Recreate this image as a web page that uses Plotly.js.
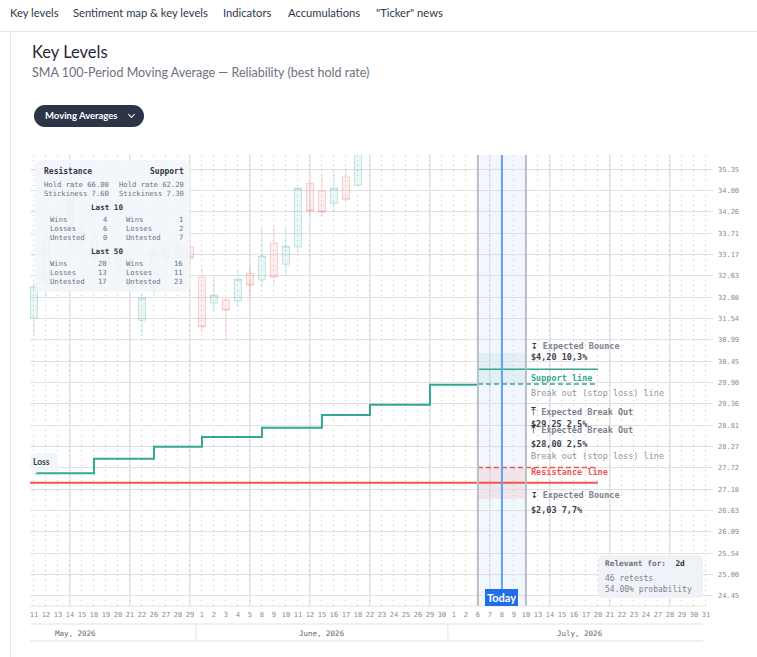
<!DOCTYPE html>
<html>
<head>
<meta charset="utf-8">
<script src="https://cdn.plot.ly/plotly-3.0.1.min.js"></script>
<style>
  html, body { margin: 0; padding: 0; background: #fff; width: 757px; height: 657px; overflow: hidden;
    font-family: Lato, "Open Sans", "Noto Sans", sans-serif; }
  #chart { position: absolute; left: 0; top: 0; width: 757px; height: 657px; }
  .abs { position: absolute; white-space: nowrap; }
  .nav { top: 5px; font-size: 11.2px; line-height: 15px; color: #2d3748; }
  .btn { left: 34px; top: 105px; width: 110px; height: 22px; border-radius: 11px; background: #2b3547;
    color: #fff; font-weight: 700; font-size: 9.5px; line-height: 22px; padding-left: 11px; box-sizing: border-box; }
  .chev { position: absolute; left: 95px; top: 7px; width: 4px; height: 4px; border-right: 1px solid #fff;
    border-bottom: 1px solid #fff; transform: rotate(45deg); }
</style>
</head>
<body>
<div id="chart"></div>

<div class="abs nav" style="left:10px">Key levels</div>
<div class="abs nav" style="left:73px">Sentiment map &amp; key levels</div>
<div class="abs nav" style="left:223px">Indicators</div>
<div class="abs nav" style="left:288px">Accumulations</div>
<div class="abs nav" style="left:376px">"Ticker" news</div>
<div class="abs" style="left:0;top:31px;width:757px;height:1px;background:#e5e7eb"></div>
<div class="abs" style="left:10px;top:32px;width:1px;height:625px;background:#e5e7eb"></div>
<div class="abs" style="left:32px;top:42px;font-size:16.5px;line-height:21px;color:#1f2937">Key Levels</div>
<div class="abs" style="left:32px;top:65px;font-size:12.5px;line-height:16px;color:#6b7280">SMA 100-Period Moving Average — Reliability (best hold rate)</div>
<div class="abs btn">Moving Averages<span class="chev"></span></div>

<script>
// ---- sessions shown on the axis (trading days) ----
const mayDays  = [11, 12, 13, 14, 15, 18, 19, 20, 21, 22, 26, 27, 28, 29];
const juneDays = [1, 2, 3, 4, 5, 8, 9, 10, 11, 12, 15, 16, 17, 18, 22, 23, 24, 25, 26, 29, 30];
const julyDays = [1, 2, 6, 7, 8, 9, 10, 13, 14, 15, 16, 17, 20, 21, 22, 23, 24, 27, 28, 29, 30, 31];
const monthNames = ['May, 2026', 'June, 2026', 'July, 2026'];
const maySessionsBefore = 6;   // May sessions that precede the visible window

// ---- daily candles (first 28 sessions) ----
const openPx  = [31.55, 32.44, 33.55, 34.94, 33.49, 33.64, 33.10, 32.85, 33.00, 31.49, 32.31, 33.33, 33.10, 33.36,
                 32.59, 31.93, 32.01, 31.98, 32.69, 32.52, 33.46, 32.92, 33.36, 34.99, 34.79, 34.48, 35.15, 34.94];
const highPx  = [32.44, 33.95, 34.00, 35.05, 34.05, 33.85, 33.35, 33.25, 33.10, 32.18, 33.40, 33.50, 33.55, 33.50,
                 32.80, 32.64, 32.05, 32.77, 32.85, 33.87, 33.90, 33.87, 34.90, 35.00, 35.22, 35.30, 35.35, 36.10];
const lowPx   = [31.11, 32.08, 33.40, 33.45, 33.30, 32.95, 32.80, 32.70, 32.20, 31.11, 32.15, 32.95, 32.95, 32.95,
                 31.19, 31.70, 30.98, 31.83, 32.01, 32.34, 32.39, 32.62, 33.21, 34.18, 34.12, 34.25, 34.51, 34.89];
const closePx = [32.34, 33.61, 33.85, 33.67, 33.74, 33.03, 32.95, 33.08, 32.35, 32.06, 33.23, 33.08, 33.41, 33.08,
                 31.32, 32.13, 31.75, 32.54, 32.39, 33.13, 32.59, 33.38, 34.86, 34.28, 34.25, 34.86, 34.58, 35.95];

// ---- SMA 100 sampled weekly (held through each week) ----
const smaWeekly = [27.58, 27.58, 27.58, 27.58, 27.58, 27.95, 27.95, 27.95, 27.95, 27.95,
                   28.26, 28.26, 28.26, 28.26, 28.51, 28.51, 28.51, 28.51, 28.51, 28.74,
                   28.74, 28.74, 28.74, 28.74, 29.07, 29.07, 29.07, 29.07, 29.33, 29.33,
                   29.33, 29.33, 29.33, 29.84, 29.84, 29.84, 29.84, 29.84];

// ---- key levels ----
const supportLevel = 30.24;
const supportBreak = 29.86;
const supportZoneTop = 30.65;
const resistanceLevel = 27.34;
const resistanceBreak = 27.73;
const resistanceZoneBottom = 26.92;

// ---- stats ----
const statRows = ['Wins', 'Losses', 'Untested'];
const resistLast10 = [4, 6, 0];
const supportLast10 = [1, 2, 7];
const resistLast50 = [20, 13, 17];
const supportLast50 = [16, 11, 23];
const holdRate = ['66.00', '62.20'];
const stickiness = ['7.60', '7.30'];
const retests = 46;
const probability = '54.00%';
const relevantFor = '2d';

// ---- price axis ----
const yTickVals = [24.45, 24.995, 25.54, 26.085, 26.63, 27.175, 27.72, 28.265, 28.81, 29.355, 29.90,
                   30.445, 30.99, 31.535, 32.08, 32.625, 33.17, 33.715, 34.26, 34.805, 35.35];
const yTickText = ['24.45', '25.00', '25.54', '26.09', '26.63', '27.18', '27.72', '28.27', '28.81', '29.36', '29.90',
                   '30.45', '30.99', '31.54', '32.08', '32.63', '33.17', '33.71', '34.26', '34.80', '35.35'];

// ---------------------------------------------------------------
const dayLabels = [...mayDays, ...juneDays, ...julyDays].map(String);
const idx = dayLabels.map((_, i) => i);
const julyStart = mayDays.length + juneDays.length;
const weekStart = julyStart + julyDays.indexOf(6);
const todayIndex = julyStart + julyDays.indexOf(8);
const weekEnd = julyStart + julyDays.indexOf(10);
const projectionEnd = julyStart + julyDays.indexOf(20);
const candleX = openPx.map((_, i) => i);
const smaX = smaWeekly.map((_, i) => i);

const MONO = '"DejaVu Sans Mono", "Liberation Mono", monospace';
const SANS = 'Lato, "Open Sans", sans-serif';
const XR = [-0.33, 56.59];
const YR = [24.19, 35.71];
const M = { l: 30, r: 44, t: 155, b: 51 };
const W = 757 - M.l - M.r, H = 657 - M.t - M.b;
const PX = x => (x - M.l) / W;
const PY = y => (M.t + H - y) / H;
const IX = i => (i - XR[0]) / (XR[1] - XR[0]);

function roundRect(x0, y0, x1, y1, r) {
  const X = PX, Y = PY;
  return `M${X(x0 + r)},${Y(y0)} L${X(x1 - r)},${Y(y0)} Q${X(x1)},${Y(y0)} ${X(x1)},${Y(y0 + r)} ` +
         `L${X(x1)},${Y(y1 - r)} Q${X(x1)},${Y(y1)} ${X(x1 - r)},${Y(y1)} L${X(x0 + r)},${Y(y1)} ` +
         `Q${X(x0)},${Y(y1)} ${X(x0)},${Y(y1 - r)} L${X(x0)},${Y(y0 + r)} Q${X(x0)},${Y(y0)} ${X(x0 + r)},${Y(y0)} Z`;
}

const GREEN = '#33a793', RED = '#ef5350';

const traces = [
  {
    type: 'candlestick', x: candleX, open: openPx, high: highPx, low: lowPx, close: closePx,
    increasing: { line: { color: 'rgba(38,166,154,0.25)', width: 1 }, fillcolor: 'rgba(38,166,154,0.09)' },
    decreasing: { line: { color: 'rgba(239,83,80,0.25)', width: 1 }, fillcolor: 'rgba(239,83,80,0.09)' },
    hoverinfo: 'skip', showlegend: false
  },
  {
    type: 'scatter', mode: 'lines', x: smaX, y: smaWeekly, line: { color: GREEN, width: 2, shape: 'hv' },
    hoverinfo: 'skip', showlegend: false
  },
  {
    type: 'scatter', mode: 'lines', x: [XR[0] - 1, projectionEnd], y: [resistanceLevel, resistanceLevel],
    line: { color: RED, width: 2 }, hoverinfo: 'skip', showlegend: false
  },
  {
    type: 'scatter', mode: 'lines', x: [weekStart, projectionEnd], y: [supportLevel, supportLevel],
    line: { color: GREEN, width: 1.5 }, hoverinfo: 'skip', showlegend: false
  },
  {
    type: 'scatter', mode: 'lines', x: [weekStart, projectionEnd], y: [supportBreak, supportBreak],
    line: { color: GREEN, width: 1.5, dash: '5px,3px' }, hoverinfo: 'skip', showlegend: false
  },
  {
    type: 'scatter', mode: 'lines', x: [weekStart, projectionEnd], y: [resistanceBreak, resistanceBreak],
    line: { color: RED, width: 1.5, dash: '5px,3px' }, hoverinfo: 'skip', showlegend: false
  }
];

const shapes = [];
// heavier grid every fifth session
idx.filter(i => i % 5 === 3).forEach(i => shapes.push({
  type: 'line', xref: 'x', yref: 'paper', x0: i, x1: i, y0: 0, y1: 1, layer: 'below',
  line: { color: '#e1e1e1', width: 1.3 }
}));
// current week band and today marker
shapes.push({ type: 'rect', xref: 'x', yref: 'paper', x0: weekStart, x1: weekEnd, y0: 0, y1: 1, layer: 'below',
  fillcolor: 'rgba(219,232,248,0.35)', line: { width: 0 } });
shapes.push({ type: 'rect', xref: 'x', yref: 'y', x0: weekStart, x1: weekEnd, y0: supportBreak, y1: supportZoneTop,
  layer: 'below', fillcolor: 'rgba(38,166,154,0.08)', line: { width: 0 } });
shapes.push({ type: 'rect', xref: 'x', yref: 'y', x0: weekStart, x1: weekEnd, y0: resistanceZoneBottom, y1: resistanceBreak,
  layer: 'below', fillcolor: 'rgba(239,83,80,0.1)', line: { width: 0 } });
[weekStart, weekEnd].forEach(i => shapes.push({ type: 'line', xref: 'x', yref: 'paper', x0: i, x1: i, y0: 0, y1: 1,
  line: { color: '#b7bfca', width: 2 } }));
shapes.push({ type: 'line', xref: 'x', yref: 'paper', x0: todayIndex, x1: todayIndex, y0: 0, y1: 1,
  line: { color: '#5ea1f5', width: 2 } });

// date strip under the plot
[606, 624, 641].forEach(y => shapes.push({ type: 'line', xref: 'paper', yref: 'paper',
  x0: PX(30), x1: PX(703), y0: PY(y), y1: PY(y), line: { color: '#e3e3e3', width: 1 } }));
const monthBounds = [mayDays.length - 0.5, mayDays.length + juneDays.length - 0.5];
monthBounds.forEach(b => shapes.push({ type: 'line', xref: 'paper', yref: 'paper',
  x0: IX(b), x1: IX(b), y0: PY(624), y1: PY(641), line: { color: '#e3e3e3', width: 1 } }));

// stats panel, "Loss" tag and relevance box
shapes.push({ type: 'path', xref: 'paper', yref: 'paper', path: roundRect(35, 160, 190, 292, 6),
  fillcolor: 'rgba(241,245,249,0.88)', line: { width: 0 }, layer: 'above' });
shapes.push({ type: 'path', xref: 'paper', yref: 'paper', path: roundRect(30, 453, 58, 471, 4),
  fillcolor: 'rgba(241,245,249,0.95)', line: { width: 0 }, layer: 'above' });
shapes.push({ type: 'path', xref: 'paper', yref: 'paper',
  path: `M${PX(32)},${PY(470)} L${PX(39)},${PY(470)} L${PX(33)},${PY(477)} Z`,
  fillcolor: 'rgba(241,245,249,0.95)', line: { width: 0 }, layer: 'above' });
shapes.push({ type: 'path', xref: 'paper', yref: 'paper', path: roundRect(598, 555, 703, 598, 6),
  fillcolor: 'rgba(238,242,247,0.95)', line: { width: 0 }, layer: 'above' });

const ann = [];
function pa(text, x, y, size, color, anchor, family) {
  ann.push({ xref: 'paper', yref: 'paper', x: PX(x), y: PY(y), text, showarrow: false,
    xanchor: anchor || 'left', yanchor: 'middle', borderpad: 0,
    font: { family: family || MONO, size, color } });
}
const DARK = '#333a44', GREY = '#6b7280';

// stats panel text
pa('<b>Resistance</b>', 43, 171, 8, DARK);
pa('<b>Support</b>', 185, 171, 8, DARK, 'right');
pa('Hold rate ' + holdRate[0], 43, 184, 7.2, GREY);
pa('Hold rate ' + holdRate[1], 118, 184, 7.2, GREY);
pa('Stickiness ' + stickiness[0], 43, 194, 7.2, GREY);
pa('Stickiness ' + stickiness[1], 118, 194, 7.2, GREY);
pa('<b>Last 10</b>', 107, 207, 7.6, DARK, 'center');
pa('<b>Last 50</b>', 107, 251.5, 7.6, DARK, 'center');
const row10 = [219, 228.5, 237.5], row50 = [263, 272.5, 281.5];
statRows.forEach((name, k) => {
  pa(name, 49, row10[k], 7.2, GREY);
  pa(String(resistLast10[k]), 108, row10[k], 7.2, GREY, 'right');
  pa(name, 125, row10[k], 7.2, GREY);
  pa(String(supportLast10[k]), 184, row10[k], 7.2, GREY, 'right');
  pa(name, 49, row50[k], 7.2, GREY);
  pa(String(resistLast50[k]), 108, row50[k], 7.2, GREY, 'right');
  pa(name, 125, row50[k], 7.2, GREY);
  pa(String(supportLast50[k]), 184, row50[k], 7.2, GREY, 'right');
});

// Loss tag
pa('<b>Loss</b>', 32, 462, 8.5, '#374151', 'left', SANS);

// relevance box
pa('<b>Relevant for:</b>  <span style="color:#2d3340"><b>' + relevantFor + '</b></span>', 604, 563, 7.8, '#6b7280');
pa(retests + ' retests', 604, 578, 8, '#7b8390');
pa(probability + ' probability', 604, 589, 8, '#7b8390');

// month names centred over each month's sessions
const mayCenter = (-maySessionsBefore - 0.5 + mayDays.length - 0.5) / 2;
const juneCenter = (mayDays.length - 0.5 + mayDays.length + juneDays.length - 0.5) / 2;
const julyCenter = (julyStart - 0.5 + julyStart + julyDays.length - 0.5) / 2;
[mayCenter, juneCenter, julyCenter].forEach((c, k) => ann.push({
  xref: 'paper', yref: 'paper', x: IX(c), y: PY(633), text: monthNames[k], showarrow: false,
  xanchor: 'center', yanchor: 'middle', font: { family: MONO, size: 7.5, color: '#666' }
}));

// level captions to the right of the current week
function la(text, level, shift, size, color) {
  ann.push({ xref: 'x', yref: 'y', x: weekEnd, y: level, yshift: shift, xshift: 4, text, showarrow: false,
    xanchor: 'left', yanchor: 'middle', borderpad: 0, font: { family: MONO, size, color } });
}
const CAP = '#7a828e', VAL = '#3d4451', NOTE = '#8d96a2';
const bounceIcon = '<span style="color:#333;font-size:11px">↧</span> ';
const breakIcon = '<span style="color:#333;font-size:11px">⤒</span> ';
la(bounceIcon + '<b>Expected Bounce</b>', supportLevel, 24, 8.5, CAP);
la('<b>$4,20 10,3%</b>', supportLevel, 12, 8.5, VAL);
la('<b>Support line</b>', supportLevel, -9, 8.5, GREEN);
la('Break out (stop loss) line', supportBreak, -9, 8.5, NOTE);
la(breakIcon + '<b>Expected Break Out</b>', supportBreak, -27, 8.5, CAP);
la('<b>$29,25 2,5%</b>', supportBreak, -40, 8.5, VAL);
la(breakIcon + '<b>Expected Break Out</b>', resistanceBreak, 38, 8.5, CAP);
la('<b>$28,00 2,5%</b>', resistanceBreak, 23, 8.5, VAL);
la('Break out (stop loss) line', resistanceBreak, 11, 8.5, NOTE);
la('<b>Resistance line</b>', resistanceBreak, -5, 8.5, RED);
la(bounceIcon + '<b>Expected Bounce</b>', resistanceLevel, -12, 8.5, CAP);
la('<b>$2,03 7,7%</b>', resistanceLevel, -27, 8.5, VAL);

// today badge
ann.push({ xref: 'x', yref: 'paper', x: todayIndex, y: 0, yanchor: 'bottom', xanchor: 'center',
  text: '<b>Today</b>', showarrow: false, bgcolor: '#1f6fe6', borderpad: 2, borderwidth: 0,
  font: { family: SANS, size: 11, color: '#fff' } });

const layout = {
  width: 757, height: 657, margin: M,
  paper_bgcolor: 'rgba(0,0,0,0)', plot_bgcolor: '#fff',
  showlegend: false, boxgap: 0.16, dragmode: false,
  xaxis: {
    range: XR, tickmode: 'array', tickvals: idx, ticktext: dayLabels, tickangle: 0,
    showgrid: true, gridcolor: '#c6c6c6', griddash: '1px,4px', gridwidth: 1,
    zeroline: false, showline: false, ticks: '', fixedrange: true, ticklabelstandoff: 3,
    tickfont: { family: MONO, size: 7, color: '#8a8a8a' },
    rangeslider: { visible: false }
  },
  yaxis: {
    side: 'right', range: YR, tickmode: 'array', tickvals: yTickVals, ticktext: yTickText,
    showgrid: true, gridcolor: '#e0e0e0', gridwidth: 1, zeroline: false, showline: false,
    ticks: '', fixedrange: true, ticklabelstandoff: 4,
    tickfont: { family: MONO, size: 7, color: '#8a8a8a' }
  },
  shapes, annotations: ann
};

Plotly.newPlot('chart', traces, layout, { displayModeBar: false, staticPlot: true });
</script>
</body>
</html>
